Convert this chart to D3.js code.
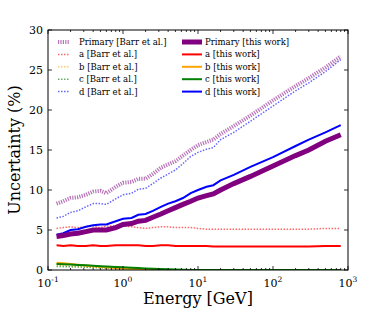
<!DOCTYPE html>
<html>
<head>
<meta charset="utf-8">
<script src="https://cdn.jsdelivr.net/npm/d3@7"></script>
<style>
  body { margin: 0; background: #fff; }
  text { font-family: "DejaVu Serif", serif; fill: #000; }
</style>
</head>
<body>
<script>
  var energy = [0.13, 0.16, 0.2, 0.25, 0.32, 0.4, 0.5, 0.6, 0.8, 1.0, 1.3, 1.6, 2.0, 2.5, 3.2, 4, 5, 6.3, 8, 10, 13, 16, 20, 30, 50, 100, 200, 300, 500, 800];

  var primaryBarr = [8.3, 8.6, 9.0, 9.1, 9.4, 9.8, 9.9, 9.6, 10.4, 10.9, 11.0, 11.4, 11.4, 12.0, 12.8, 13.2, 13.6, 14.3, 15.0, 15.6, 16.0, 16.3, 17.0, 18.0, 19.3, 21.2, 23.0, 24.0, 25.3, 26.7];
  var aBarr = [5.2, 5.3, 5.4, 5.3, 5.4, 5.5, 5.3, 5.5, 5.5, 5.5, 5.4, 5.3, 5.2, 5.3, 5.4, 5.4, 5.3, 5.3, 5.3, 5.2, 5.1, 5.1, 5.1, 5.1, 5.1, 5.1, 5.1, 5.1, 5.2, 5.2];
  var bBarr = [0.6, 0.55, 0.5, 0.45, 0.4, 0.35, 0.3, 0.25, 0.2, 0.15, 0.12, 0.09, 0.06, 0.04, 0.02, 0.01, 0, 0, 0, 0, 0, 0, 0, 0, 0, 0, 0, 0, 0, 0];
  var cBarr = [0.45, 0.42, 0.4, 0.37, 0.34, 0.31, 0.28, 0.25, 0.21, 0.18, 0.15, 0.12, 0.09, 0.07, 0.05, 0.03, 0.02, 0.01, 0.01, 0.01, 0.01, 0.01, 0.01, 0.01, 0.01, 0.01, 0.01, 0.01, 0.01, 0.01];
  var dBarr = [6.5, 6.7, 7.2, 7.4, 7.9, 8.3, 8.3, 8.2, 8.9, 9.4, 9.6, 10.1, 10.2, 10.8, 11.5, 12.0, 12.5, 13.3, 14.2, 14.7, 15.1, 15.3, 16.3, 17.2, 18.6, 20.5, 22.4, 23.4, 24.8, 26.3];

  var primaryThis = [4.2, 4.3, 4.5, 4.6, 4.8, 5.0, 5.0, 5.0, 5.3, 5.7, 5.8, 6.1, 6.2, 6.6, 7.0, 7.4, 7.8, 8.2, 8.6, 9.0, 9.3, 9.5, 10.0, 10.8, 11.7, 13.0, 14.3, 15.0, 16.1, 16.9];
  var aThis = [3.1, 3.0, 3.1, 3.0, 3.0, 3.1, 3.0, 3.0, 3.1, 3.1, 3.1, 3.1, 3.0, 3.0, 3.1, 3.1, 3.0, 3.0, 3.0, 3.0, 3.0, 2.95, 2.95, 2.95, 2.95, 2.95, 2.95, 2.95, 3.0, 3.0];
  var bThis = [0.9, 0.85, 0.75, 0.65, 0.55, 0.48, 0.4, 0.33, 0.25, 0.2, 0.15, 0.1, 0.07, 0.04, 0.02, 0.01, 0, 0, 0, 0, 0, 0, 0, 0, 0, 0, 0, 0, 0, 0];
  var cThis = [0.75, 0.72, 0.68, 0.63, 0.58, 0.53, 0.48, 0.44, 0.38, 0.34, 0.29, 0.24, 0.2, 0.16, 0.12, 0.08, 0.05, 0.02, 0.01, 0, 0, 0, 0, 0, 0, 0, 0, 0, 0, 0];
  var dThis = [4.4, 4.6, 5.0, 5.1, 5.4, 5.6, 5.7, 5.7, 6.1, 6.4, 6.5, 6.9, 7.0, 7.4, 7.9, 8.3, 8.6, 9.0, 9.6, 10.0, 10.4, 10.6, 11.2, 11.9, 12.9, 14.1, 15.5, 16.3, 17.2, 18.1];

  var yTicks = [0, 5, 10, 15, 20, 25, 30];
  var xTickExp = [-1, 0, 1, 2, 3];

  var series = [
    {label: "Primary [Barr et al.]", values: primaryBarr, color: "#800080", width: 4, dash: "1.2,1.2", opacity: 0.55},
    {label: "a [Barr et al.]", values: aBarr, color: "#ff0000", width: 1.5, dash: "1.5,1.5", opacity: 0.6},
    {label: "b [Barr et al.]", values: bBarr, color: "#ffa500", width: 1.5, dash: "1.5,1.5", opacity: 0.6},
    {label: "c [Barr et al.]", values: cBarr, color: "#008000", width: 1.5, dash: "1.5,1.5", opacity: 0.6},
    {label: "d [Barr et al.]", values: dBarr, color: "#0000ff", width: 1.5, dash: "1.5,1.5", opacity: 0.6},
    {label: "Primary [this work]", values: primaryThis, color: "#800080", width: 5, dash: null, opacity: 1},
    {label: "a [this work]", values: aThis, color: "#ff0000", width: 2, dash: null, opacity: 1},
    {label: "b [this work]", values: bThis, color: "#ffa500", width: 2, dash: null, opacity: 1},
    {label: "c [this work]", values: cThis, color: "#008000", width: 2, dash: null, opacity: 1},
    {label: "d [this work]", values: dThis, color: "#0000ff", width: 2, dash: null, opacity: 1}
  ];

  var W = 386, H = 309;
  var mLeft = 48, mRight = 348, mTop = 30, mBottom = 270;

  var svg = d3.select("body").append("svg")
    .attr("width", W)
    .attr("height", H);

  var x = d3.scaleLog().domain([0.1, 1000]).range([mLeft, mRight]);
  var y = d3.scaleLinear().domain([0, 30]).range([mBottom, mTop]);

  svg.append("clipPath").attr("id", "clip")
    .append("rect")
      .attr("x", mLeft).attr("y", mTop)
      .attr("width", mRight - mLeft).attr("height", mBottom - mTop);

  var line = d3.line()
    .x(function(d) { return x(d[0]); })
    .y(function(d) { return y(d[1]); });

  var plot = svg.append("g").attr("clip-path", "url(#clip)");

  // barr first, then this work on top
  var order = [0, 1, 2, 3, 4, 6, 7, 8, 9, 5];
  order.forEach(function(i) {
    var s = series[i];
    plot.append("path")
      .datum(energy.map(function(e, k) { return [e, s.values[k]]; }))
      .attr("d", line)
      .attr("fill", "none")
      .attr("stroke", s.color)
      .attr("stroke-width", s.width)
      .attr("stroke-opacity", s.opacity)
      .attr("stroke-dasharray", s.dash);
  });

  // minor ticks on the log axis
  var minor = [];
  for (var e = -1; e < 3; e++) {
    for (var m = 2; m <= 9; m++) minor.push(m * Math.pow(10, e));
  }

  var axes = svg.append("g").attr("stroke", "#000").attr("stroke-width", 0.8);

  xTickExp.forEach(function(p) {
    var xv = x(Math.pow(10, p));
    axes.append("line").attr("x1", xv).attr("x2", xv).attr("y1", mBottom).attr("y2", mBottom - 4);
    axes.append("line").attr("x1", xv).attr("x2", xv).attr("y1", mTop).attr("y2", mTop + 4);
  });
  minor.forEach(function(v) {
    var xv = x(v);
    axes.append("line").attr("x1", xv).attr("x2", xv).attr("y1", mBottom).attr("y2", mBottom - 2);
    axes.append("line").attr("x1", xv).attr("x2", xv).attr("y1", mTop).attr("y2", mTop + 2);
  });
  yTicks.forEach(function(v) {
    var yv = y(v);
    axes.append("line").attr("x1", mLeft).attr("x2", mLeft + 4).attr("y1", yv).attr("y2", yv);
    axes.append("line").attr("x1", mRight).attr("x2", mRight - 4).attr("y1", yv).attr("y2", yv);
  });

  svg.append("rect")
    .attr("x", mLeft).attr("y", mTop)
    .attr("width", mRight - mLeft).attr("height", mBottom - mTop)
    .attr("fill", "none")
    .attr("stroke", "#000")
    .attr("stroke-width", 1);

  yTicks.forEach(function(v) {
    svg.append("text")
      .attr("x", mLeft - 5)
      .attr("y", y(v) + 4)
      .attr("text-anchor", "end")
      .attr("font-size", 11)
      .text(v);
  });
  xTickExp.forEach(function(p) {
    var t = svg.append("text")
      .attr("x", x(Math.pow(10, p)))
      .attr("y", 287)
      .attr("text-anchor", "middle")
      .attr("font-size", 11);
    t.append("tspan").text("10");
    t.append("tspan").attr("dy", -5).attr("font-size", 7.5).text(p);
  });

  svg.append("text")
    .attr("x", (mLeft + mRight) / 2)
    .attr("y", 304)
    .attr("text-anchor", "middle")
    .attr("font-size", 16)
    .text("Energy [GeV]");

  svg.append("text")
    .attr("transform", "translate(20," + ((mTop + mBottom) / 2) + ") rotate(-90)")
    .attr("text-anchor", "middle")
    .attr("font-size", 16)
    .text("Uncertainty (%)");

  // legend
  var legend = svg.append("g");
  series.forEach(function(s, i) {
    var col = i < 5 ? 0 : 1;
    var row = i % 5;
    var lx = col === 0 ? 58 : 182;
    var ly = 42 + row * 12.4;
    legend.append("line")
      .attr("x1", lx).attr("x2", lx + (col === 0 ? 11 : 20))
      .attr("y1", ly).attr("y2", ly)
      .attr("stroke", s.color)
      .attr("stroke-width", s.width)
      .attr("stroke-opacity", s.opacity)
      .attr("stroke-dasharray", s.dash);
    legend.append("text")
      .attr("x", col === 0 ? 79 : 205)
      .attr("y", ly + 3)
      .attr("font-size", 8.5)
      .text(s.label);
  });
</script>
</body>
</html>
